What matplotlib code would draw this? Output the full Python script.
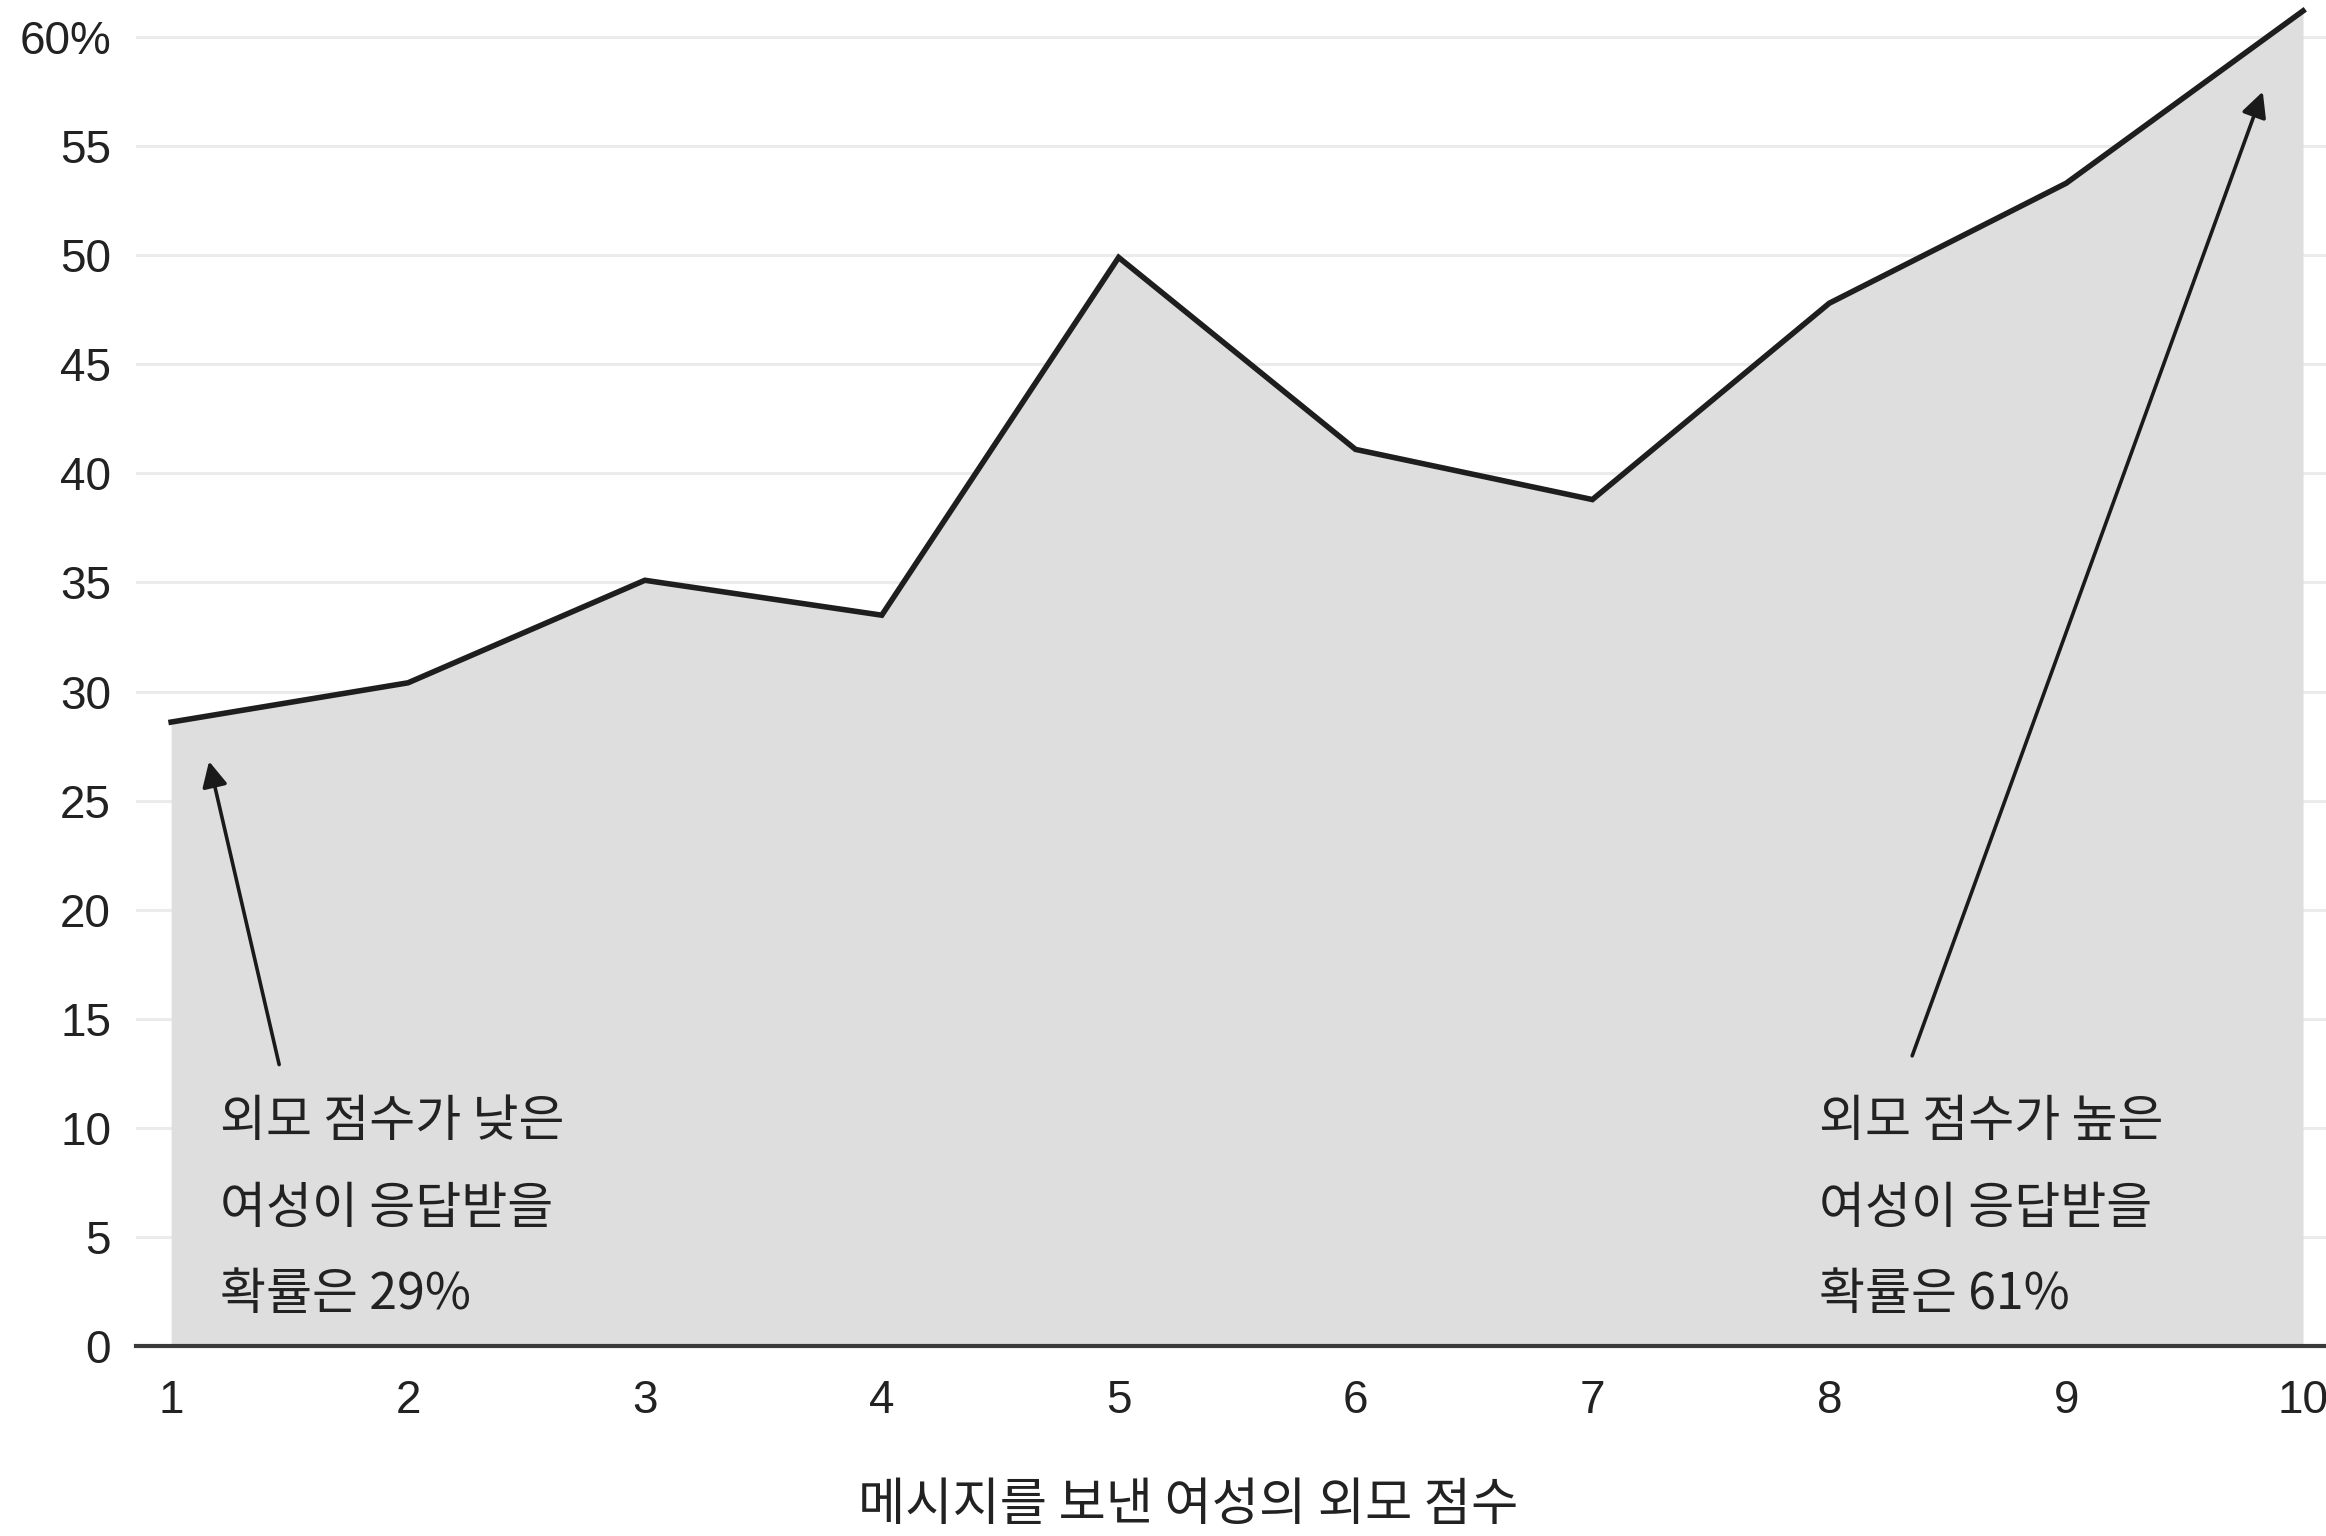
import numpy as np
import matplotlib
matplotlib.use("Agg")
from matplotlib import pyplot as plt

# Data
scores = [1, 2, 3, 4, 5, 6, 7, 8, 9, 10]
reply_rate = [28.6, 30.4, 35.1, 33.5, 49.9, 41.1, 38.8, 47.8, 53.3, 61.2]
y_ticks = [0, 5, 10, 15, 20, 25, 30, 35, 40, 45, 50, 55, 60]
y_tick_labels = ['0', '5', '10', '15', '20', '25', '30', '35', '40', '45', '50', '55', '60%']
x_label = '메시지를 보낸 여성의 외모 점수'
note_low = '외모 점수가 낮은\n여성이 응답받을\n확률은 29%'
note_high = '외모 점수가 높은\n여성이 응답받을\n확률은 61%'

kr_font = ['Noto Sans CJK KR', 'DejaVu Sans']
num_font = ['Liberation Sans', 'DejaVu Sans']

fig = plt.figure(figsize=(23.26, 15.36), dpi=100)
ax = fig.add_axes([0.0585, 0.1237, 0.9415, 0.8763])

# Grid lines
for v in y_ticks[1:]:
    ax.axhline(v, color='#ebebeb', lw=2.2, zorder=0)

# Area and outline
ax.fill_between(scores, reply_rate, 0, color='#dedede', lw=0, zorder=1)
ax.plot(scores, reply_rate, color='#1e1e1e', lw=4, solid_joinstyle='miter', zorder=3)

ax.set_xlim(0.852, 10.097)
ax.set_ylim(0, 61.7)

for s in ['top', 'right', 'left']:
    ax.spines[s].set_visible(False)
ax.spines['bottom'].set_color('#3a3a3a')
ax.spines['bottom'].set_linewidth(3)
ax.spines['bottom'].set_zorder(4)

ax.set_xticks(scores)
ax.set_xticklabels([str(s) for s in scores], fontfamily=num_font, fontsize=33, color='#222222')
ax.set_yticks(y_ticks)
ax.set_yticklabels(y_tick_labels, fontfamily=num_font, fontsize=33, color='#222222')
ax.tick_params(axis='x', length=0, pad=24)
ax.tick_params(axis='y', length=0, pad=18)

fig.text(0.511, 0.02, x_label, fontfamily=kr_font, fontsize=37, color='#222222',
         ha='center', va='center')

# Annotations
ax.text(1.207, 6.3, note_low, fontfamily=kr_font, fontsize=36, color='#222222',
        va='center', ha='left', linespacing=1.86, zorder=5)
ax.text(7.957, 6.3, note_high, fontfamily=kr_font, fontsize=36, color='#222222',
        va='center', ha='left', linespacing=1.86, zorder=5)

arrow_style = dict(arrowstyle='-|>', color='#1a1a1a', lw=2.6, mutation_scale=38,
                   shrinkA=0, shrinkB=0)
ax.annotate('', xy=(1.16, 26.8), xytext=(1.456, 12.9), arrowprops=arrow_style, zorder=5)
ax.annotate('', xy=(9.83, 57.5), xytext=(8.35, 13.3), arrowprops=arrow_style, zorder=5)

fig.savefig('out.png', dpi=100, facecolor='white')
